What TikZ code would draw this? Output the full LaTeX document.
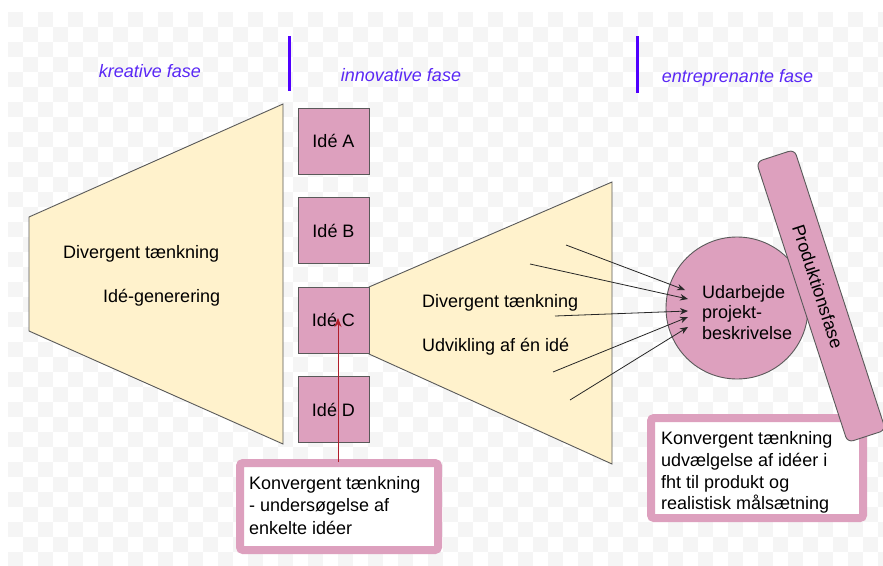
\documentclass[tikz,border=0pt]{standalone}
\usepackage{fontspec}
\setmainfont{Liberation Sans}
\usetikzlibrary{arrows.meta,calc}
\definecolor{trapfill}{HTML}{FFF2CC}
\definecolor{edgegray}{HTML}{595959}
\definecolor{pinkfill}{HTML}{DDA0BE}
\definecolor{phaseblue}{HTML}{5A28F5}
\definecolor{lineblue}{HTML}{5000FF}
\definecolor{checker}{HTML}{F5F5F5}
\definecolor{redarrow}{HTML}{B01E2A}
\begin{document}
\begin{tikzpicture}[x=1pt,y=-1pt,
  txt/.style={font=\fontsize{18}{21}\selectfont, inner sep=0pt, anchor=west},
  phase/.style={font=\fontsize{18}{21}\selectfont\itshape, text=phaseblue, inner sep=0pt},
  trap/.style={fill=trapfill, draw=edgegray, line width=0.9pt, line join=miter},
  idebox/.style={rectangle, fill=pinkfill, draw=edgegray, line width=0.9pt, minimum width=71pt, minimum height=66pt, inner sep=0pt, font=\fontsize{18}{21}\selectfont},
  notebox/.style={rectangle, draw=pinkfill, fill=white, line width=8pt, rounded corners=3pt, inner sep=0pt},
  conv/.style={draw=black!85, line width=0.8pt, -{Stealth[length=8pt,width=6.5pt]}},
  divider/.style={draw=lineblue, line width=3pt},
  barbox/.style={rectangle, fill=pinkfill, draw=edgegray, line width=0.9pt, rounded corners=6pt, minimum width=295pt, minimum height=40pt, inner sep=0pt},
]
\useasboundingbox (0,0) rectangle (883,565);
\fill[white] (0,0) rectangle (883,565);
% checkered background
\begin{scope}
\clip (8,12) rectangle (883,565);
\foreach \i in {0,2,...,58}{
  \foreach \j in {0,2,...,36}{
    \fill[checker] (8+15*\i,12+15*\j) rectangle +(15,15);
    \fill[checker] (23+15*\i,27+15*\j) rectangle +(15,15);
  }
}
\end{scope}

% phase headers
\node[phase] (hkreativ) at (150,71) {kreative fase};
\node[phase] (hinnov) at (401,75) {innovative fase};
\node[phase] (hentre) at (737.5,78) {entreprenante fase};
\coordinate (d1a) at (289,36); \coordinate (d1b) at (289,91);
\coordinate (d2a) at (637,36); \coordinate (d2b) at (637,93);
\draw[divider] (d1a) -- (d1b);
\draw[divider] (d2a) -- (d2b);

% trapezoids
\draw[trap] (29,217) -- (283,104) -- (283,444) -- (29,331) -- cycle;
\draw[trap] (369,287) -- (612,182) -- (612,464) -- (369,354) -- cycle;

\node[txt] (ldiv) at (63,254) {Divergent tænkning};
\node[txt] (lgen) at (103,298) {Idé-generering};
\node[txt] (rdiv) at (422,303) {Divergent tænkning};
\node[txt] (rudv) at (422,347) {Udvikling af én idé};

% idea boxes
\node[idebox] (ideA) at (333.5,141) {Idé A};
\node[idebox] (ideB) at (333.5,230.5) {Idé B};
\node[idebox] (ideC) at (333.5,320) {Idé C};
\node[idebox] (ideD) at (333.5,409.5) {Idé D};

% note boxes
\node[notebox, minimum width=198pt, minimum height=87pt] (knote) at (339,506.5) {};
\node[txt, align=left, font=\fontsize{18}{22.5}\selectfont] (knotetext) at (249,505.5) {Konvergent tænkning\\- undersøgelse af\\enkelte idéer};
\node[notebox, minimum width=212pt, minimum height=100pt] (unote) at (757,468) {};
\node[txt, align=left, font=\fontsize{18}{21.7}\selectfont] (unotetext) at (661,472.5) {Konvergent tænkning\\udvælgelse af idéer i\\fht til produkt og\\realistisk målsætning};

% red arrow
\coordinate (redstart) at (338,462);
\coordinate (redend) at (338,318);
\draw[draw=redarrow, line width=0.9pt, -{Stealth[length=9pt,width=7pt]}] (redstart) -- (redend);

% circle
\node[circle, fill=pinkfill, draw=edgegray, line width=0.9pt, minimum size=142pt, inner sep=0pt] (proj) at (737,308) {};
\node[txt, align=left, font=\fontsize{18}{20.5}\selectfont] (projtext) at (702,312.5) {Udarbejde\\projekt-\\beskrivelse};

% converging arrows
\coordinate (s1) at (566,245); \coordinate (e1) at (685,290);
\coordinate (s2) at (530,264); \coordinate (e2) at (688,299);
\coordinate (s3) at (555,316); \coordinate (e3) at (688,311);
\coordinate (s4) at (553,372); \coordinate (e4) at (688,317);
\coordinate (s5) at (570,400); \coordinate (e5) at (688,327);
\foreach \k in {1,...,5}{\draw[conv] (s\k) -- (e\k);}

% production bar
\node[barbox, rotate=-72] (prod) at (821,296) {};
\node[rotate=-72, inner sep=0pt, font=\fontsize{18}{21}\selectfont] (prodtext) at ($(prod.center)!10pt!(prod.west)$) {Produktionsfase};
\end{tikzpicture}
\end{document}
